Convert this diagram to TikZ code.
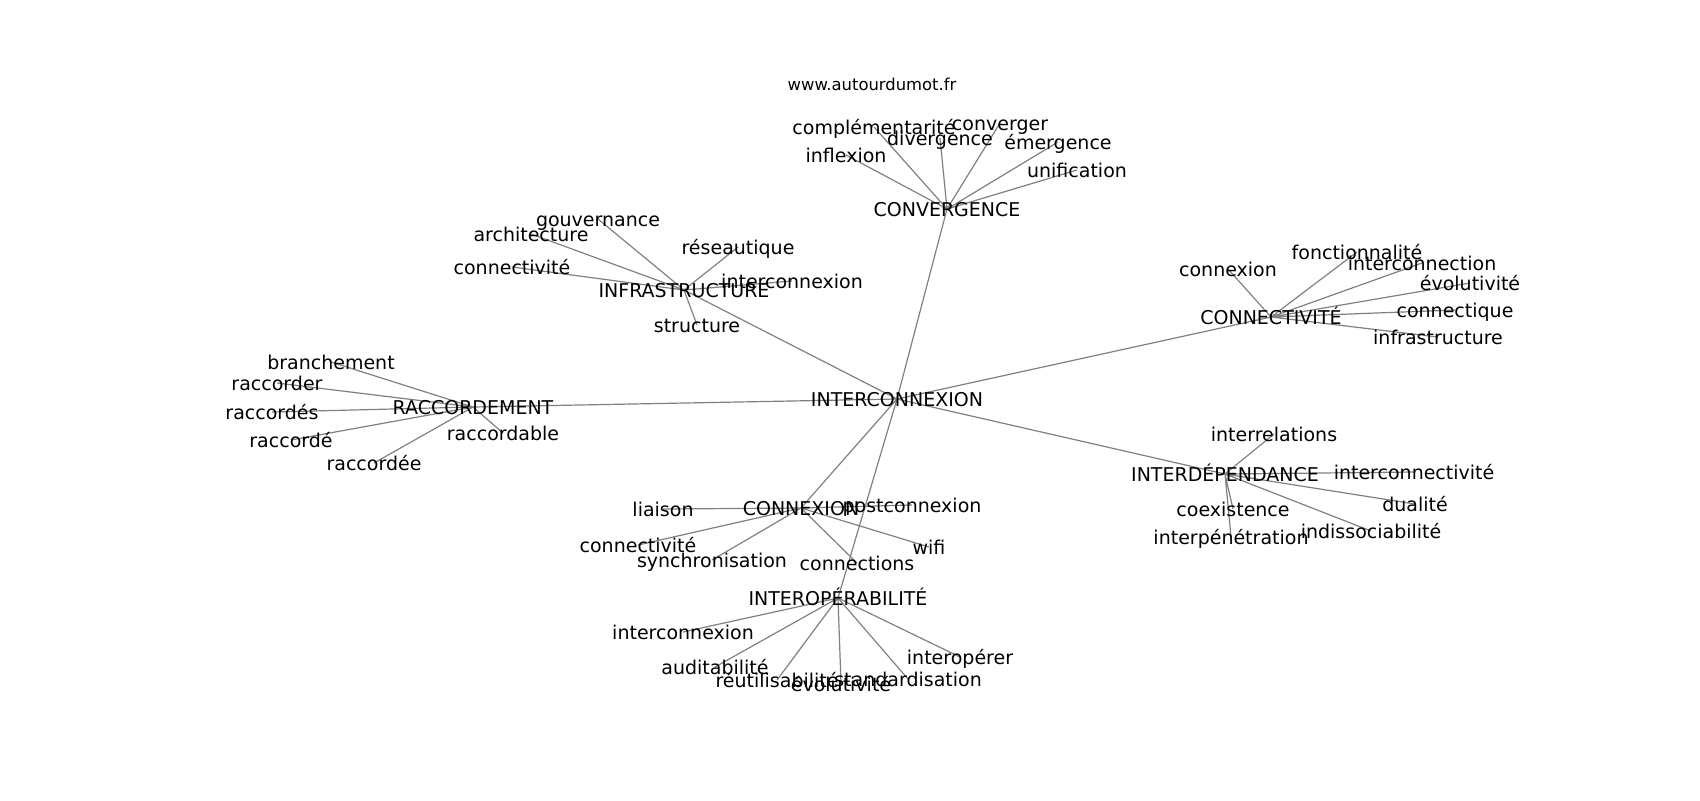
\documentclass[tikz,border=0pt]{standalone}
\usepackage{fontspec}
\setmainfont{DejaVu Sans}
\usepackage{xcolor}
\usepackage{tikz}
\usetikzlibrary{backgrounds}
\definecolor{edgegray}{RGB}{128,128,128}

\begin{document}
\begin{tikzpicture}[
    x=0.5pt, y=-0.5pt,
    word/.style={
        inner sep=0pt,
        text height=0.86em,
        text depth=0.14em,
        font=\fontsize{9.5}{11}\selectfont
    },
    edge/.style={
        draw=edgegray,
        line width=0.6pt
    }
]
    % Page frame (pixels of the reference)
    \useasboundingbox (0,0) rectangle (1700,800);

    % Source
    \node[word, font=\fontsize{8.2}{10}\selectfont] (source) at (872,83) {www.autourdumot.fr};

    % Central word and its groups
    \node[word] (inter) at (897,399) {INTERCONNEXION};
    \node[word] (conv) at (947,209) {CONVERGENCE};
    \node[word] (infra) at (684,290) {INFRASTRUCTURE};
    \node[word] (connect) at (1271,317) {CONNECTIVITÉ};
    \node[word] (racc) at (473,407) {RACCORDEMENT};
    \node[word] (interdep) at (1225,474) {INTERDÉPENDANCE};
    \node[word] (cnx) at (801,508) {CONNEXION};
    \node[word] (interop) at (838,598) {INTEROPÉRABILITÉ};

    % CONVERGENCE
    \node[word] (complementarite) at (874,127) {complémentarité};
    \node[word] (divergence) at (940,138) {divergence};
    \node[word] (converger) at (1000,123) {converger};
    \node[word] (emergence) at (1058,142) {émergence};
    \node[word] (inflexion) at (846,155) {inflexion};
    \node[word] (unification) at (1077,170) {unification};

    % INFRASTRUCTURE
    \node[word] (gouvernance) at (598,219) {gouvernance};
    \node[word] (architecture) at (531,234) {architecture};
    \node[word] (reseautique) at (738,247) {réseautique};
    \node[word] (connectiviteA) at (512,267) {connectivité};
    \node[word] (interconnexionA) at (792,281) {interconnexion};
    \node[word] (structure) at (697,325) {structure};

    % CONNECTIVITE
    \node[word] (fonctionnalite) at (1357,252) {fonctionnalité};
    \node[word] (connexion) at (1228,269) {connexion};
    \node[word] (interconnection) at (1422,263) {interconnection};
    \node[word] (evolutiviteA) at (1470,283) {évolutivité};
    \node[word] (connectique) at (1455,310) {connectique};
    \node[word] (infrastructure) at (1438,337) {infrastructure};

    % RACCORDEMENT
    \node[word] (branchement) at (331,362) {branchement};
    \node[word] (raccorder) at (277,383) {raccorder};
    \node[word] (raccordes) at (272,412) {raccordés};
    \node[word] (raccordable) at (503,433) {raccordable};
    \node[word] (raccorde) at (291,440) {raccordé};
    \node[word] (raccordee) at (374,463) {raccordée};

    % INTERDEPENDANCE
    \node[word] (interrelations) at (1274,434) {interrelations};
    \node[word] (interconnectivite) at (1414,472) {interconnectivité};
    \node[word] (dualite) at (1415,504) {dualité};
    \node[word] (coexistence) at (1233,509) {coexistence};
    \node[word] (indissociabilite) at (1371,531) {indissociabilité};
    \node[word] (interpenetration) at (1231,537) {interpénétration};

    % CONNEXION
    \node[word] (liaison) at (663,509) {liaison};
    \node[word] (postconnexion) at (912,505) {postconnexion};
    \node[word] (connectiviteB) at (638,545) {connectivité};
    \node[word] (synchronisation) at (712,560) {synchronisation};
    \node[word] (connections) at (857,563) {connections};
    \node[word] (wifi) at (929,547) {wifi};

    % INTEROPERABILITE
    \node[word] (interconnexionB) at (683,632) {interconnexion};
    \node[word] (auditabilite) at (715,667) {auditabilité};
    \node[word] (interoperer) at (960,657) {interopérer};
    \node[word] (reutilisabilite) at (777,680) {réutilisabilité};
    \node[word] (evolutiviteB) at (841,684) {évolutivité};
    \node[word] (standardisation) at (908,679) {standardisation};

    % Links, behind the words
    \begin{scope}[on background layer]
        \draw[edge] (inter.center) -- (conv.center) (inter.center) -- (infra.center)
            (inter.center) -- (connect.center) (inter.center) -- (racc.center)
            (inter.center) -- (interdep.center) (inter.center) -- (cnx.center)
            (inter.center) -- (interop.center);
        \draw[edge] (conv.center) -- (complementarite.center) (conv.center) -- (divergence.center)
            (conv.center) -- (converger.center) (conv.center) -- (emergence.center)
            (conv.center) -- (inflexion.center) (conv.center) -- (unification.center);
        \draw[edge] (infra.center) -- (gouvernance.center) (infra.center) -- (architecture.center)
            (infra.center) -- (reseautique.center) (infra.center) -- (connectiviteA.center)
            (infra.center) -- (interconnexionA.center) (infra.center) -- (structure.center);
        \draw[edge] (connect.center) -- (fonctionnalite.center) (connect.center) -- (connexion.center)
            (connect.center) -- (interconnection.center) (connect.center) -- (evolutiviteA.center)
            (connect.center) -- (connectique.center) (connect.center) -- (infrastructure.center);
        \draw[edge] (racc.center) -- (branchement.center) (racc.center) -- (raccorder.center)
            (racc.center) -- (raccordes.center) (racc.center) -- (raccordable.center)
            (racc.center) -- (raccorde.center) (racc.center) -- (raccordee.center);
        \draw[edge] (interdep.center) -- (interrelations.center) (interdep.center) -- (interconnectivite.center)
            (interdep.center) -- (dualite.center) (interdep.center) -- (coexistence.center)
            (interdep.center) -- (indissociabilite.center) (interdep.center) -- (interpenetration.center);
        \draw[edge] (cnx.center) -- (liaison.center) (cnx.center) -- (postconnexion.center)
            (cnx.center) -- (connectiviteB.center) (cnx.center) -- (synchronisation.center)
            (cnx.center) -- (connections.center) (cnx.center) -- (wifi.center);
        \draw[edge] (interop.center) -- (interconnexionB.center) (interop.center) -- (auditabilite.center)
            (interop.center) -- (interoperer.center) (interop.center) -- (reutilisabilite.center)
            (interop.center) -- (evolutiviteB.center) (interop.center) -- (standardisation.center);
    \end{scope}
\end{tikzpicture}
\end{document}
